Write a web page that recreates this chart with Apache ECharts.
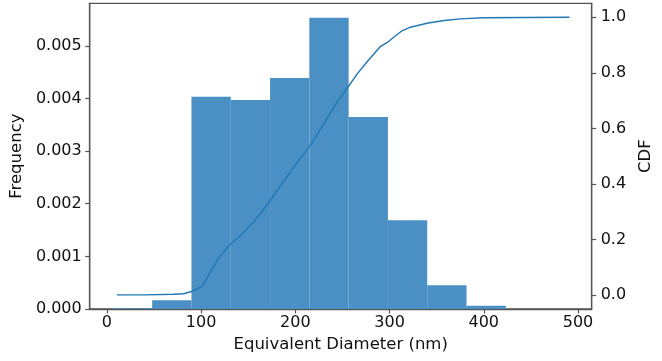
<!DOCTYPE html>
<html>
<head>
<meta charset="utf-8">
<script src="https://cdn.jsdelivr.net/npm/echarts@6/dist/echarts.min.js"></script>
<style>
html,body{margin:0;padding:0;background:#fff;}
#c{width:662px;height:361px;}
</style>
</head>
<body>
<div id="c"></div>
<script>
// Histogram bin edges (nm) and frequency density per bin
var binEdges = [6.4, 48.1, 89.8, 131.5, 173.2, 214.9, 256.6, 298.3, 340.0, 381.7, 423.4];
var frequency = [0.000015, 0.000165, 0.004032, 0.003969, 0.004387, 0.005532, 0.003646, 0.001684, 0.00045, 0.000063];
// CDF curve
var cdfX = [10.7, 40, 71, 81.5, 89, 101, 106, 110.5, 119, 131, 143, 156.6, 170.3, 184, 197.5, 211, 218, 231.8, 245.4, 255.6, 265.9, 276, 289.8, 298.4, 307, 313.7, 322.2, 341, 358, 375.2, 399, 491];
var cdfY = [0.001, 0.001, 0.003, 0.005, 0.012, 0.031, 0.06, 0.087, 0.135, 0.183, 0.218, 0.266, 0.326, 0.392, 0.457, 0.517, 0.55, 0.625, 0.70, 0.747, 0.797, 0.839, 0.893, 0.911, 0.935, 0.952, 0.964, 0.979, 0.988, 0.994, 0.998, 1.0];
// Tick labels
var xTicks = [0, 100, 200, 300, 400, 500];
var freqTicks = [0, 0.001, 0.002, 0.003, 0.004, 0.005];
var cdfTicks = [0, 0.2, 0.4, 0.6, 0.8, 1.0];

var histData = frequency.map(function (f, i) { return [binEdges[i], binEdges[i + 1], f]; });
var lineData = cdfX.map(function (x, i) { return [x, cdfY[i]]; });

var FONT = 'DejaVu Sans';
var TXT = '#111';
var SPINE = '#555';

var chart = echarts.init(document.getElementById('c'), null, { renderer: 'canvas' });
chart.setOption({
  animation: false,
  backgroundColor: '#fff',
  grid: {
    left: 82.7, right: 59.3, top: 3.3, bottom: 52,
    show: true, borderColor: SPINE, borderWidth: 1.3, backgroundColor: 'transparent'
  },
  xAxis: {
    type: 'value', min: -18.2, max: 514.5,
    name: 'Equivalent Diameter (nm)', nameLocation: 'middle', nameGap: 24,
    nameTextStyle: { fontFamily: FONT, fontSize: 16.5, color: TXT },
    splitLine: { show: false },
    axisLine: { show: true, onZero: false, lineStyle: { color: SPINE, width: 1.3 } },
    axisTick: { show: true, length: 4.5, lineStyle: { color: SPINE, width: 1.2 }, customValues: xTicks },
    axisLabel: { fontFamily: FONT, fontSize: 16, color: TXT, margin: 6, customValues: xTicks,
      formatter: function (v) { return String(Math.round(v)); } }
  },
  yAxis: [
    {
      type: 'value', min: 0, max: 0.0058065, position: 'left',
      name: 'Frequency', nameLocation: 'middle', nameGap: 58, nameRotate: 90,
      nameTextStyle: { fontFamily: FONT, fontSize: 16.5, color: TXT },
      splitLine: { show: false },
      axisLine: { show: true, onZero: false, lineStyle: { color: SPINE, width: 1.3 } },
      axisTick: { show: true, length: 4.5, lineStyle: { color: SPINE, width: 1.2 }, customValues: freqTicks },
      axisLabel: { fontFamily: FONT, fontSize: 16, color: TXT, margin: 8, customValues: freqTicks,
        formatter: function (v) { return v.toFixed(3); } }
    },
    {
      type: 'value', min: -0.05, max: 1.05, position: 'right',
      name: 'CDF', nameLocation: 'middle', nameGap: 37, nameRotate: 90,
      nameTextStyle: { fontFamily: FONT, fontSize: 16.5, color: TXT },
      splitLine: { show: false },
      axisLine: { show: true, onZero: false, lineStyle: { color: SPINE, width: 1.3 } },
      axisTick: { show: true, length: 4.5, lineStyle: { color: SPINE, width: 1.2 }, customValues: cdfTicks },
      axisLabel: { fontFamily: FONT, fontSize: 16, color: TXT, margin: 9, customValues: cdfTicks,
        formatter: function (v) { return v.toFixed(1); } }
    }
  ],
  series: [
    {
      type: 'custom',
      xAxisIndex: 0, yAxisIndex: 0,
      data: histData,
      encode: { x: [0, 1], y: 2 },
      renderItem: function (params, api) {
        var p0 = api.coord([api.value(0), api.value(2)]);
        var p1 = api.coord([api.value(1), 0]);
        return {
          type: 'rect',
          shape: { x: p0[0], y: p0[1], width: p1[0] - p0[0], height: p1[1] - p0[1] },
          style: { fill: '#4a90c4' }
        };
      }
    },
    {
      type: 'line',
      xAxisIndex: 0, yAxisIndex: 1,
      data: lineData,
      showSymbol: false, symbol: 'none',
      lineStyle: { color: '#1f77b4', width: 1.4 },
      z: 5
    }
  ]
});
</script>
</body>
</html>
